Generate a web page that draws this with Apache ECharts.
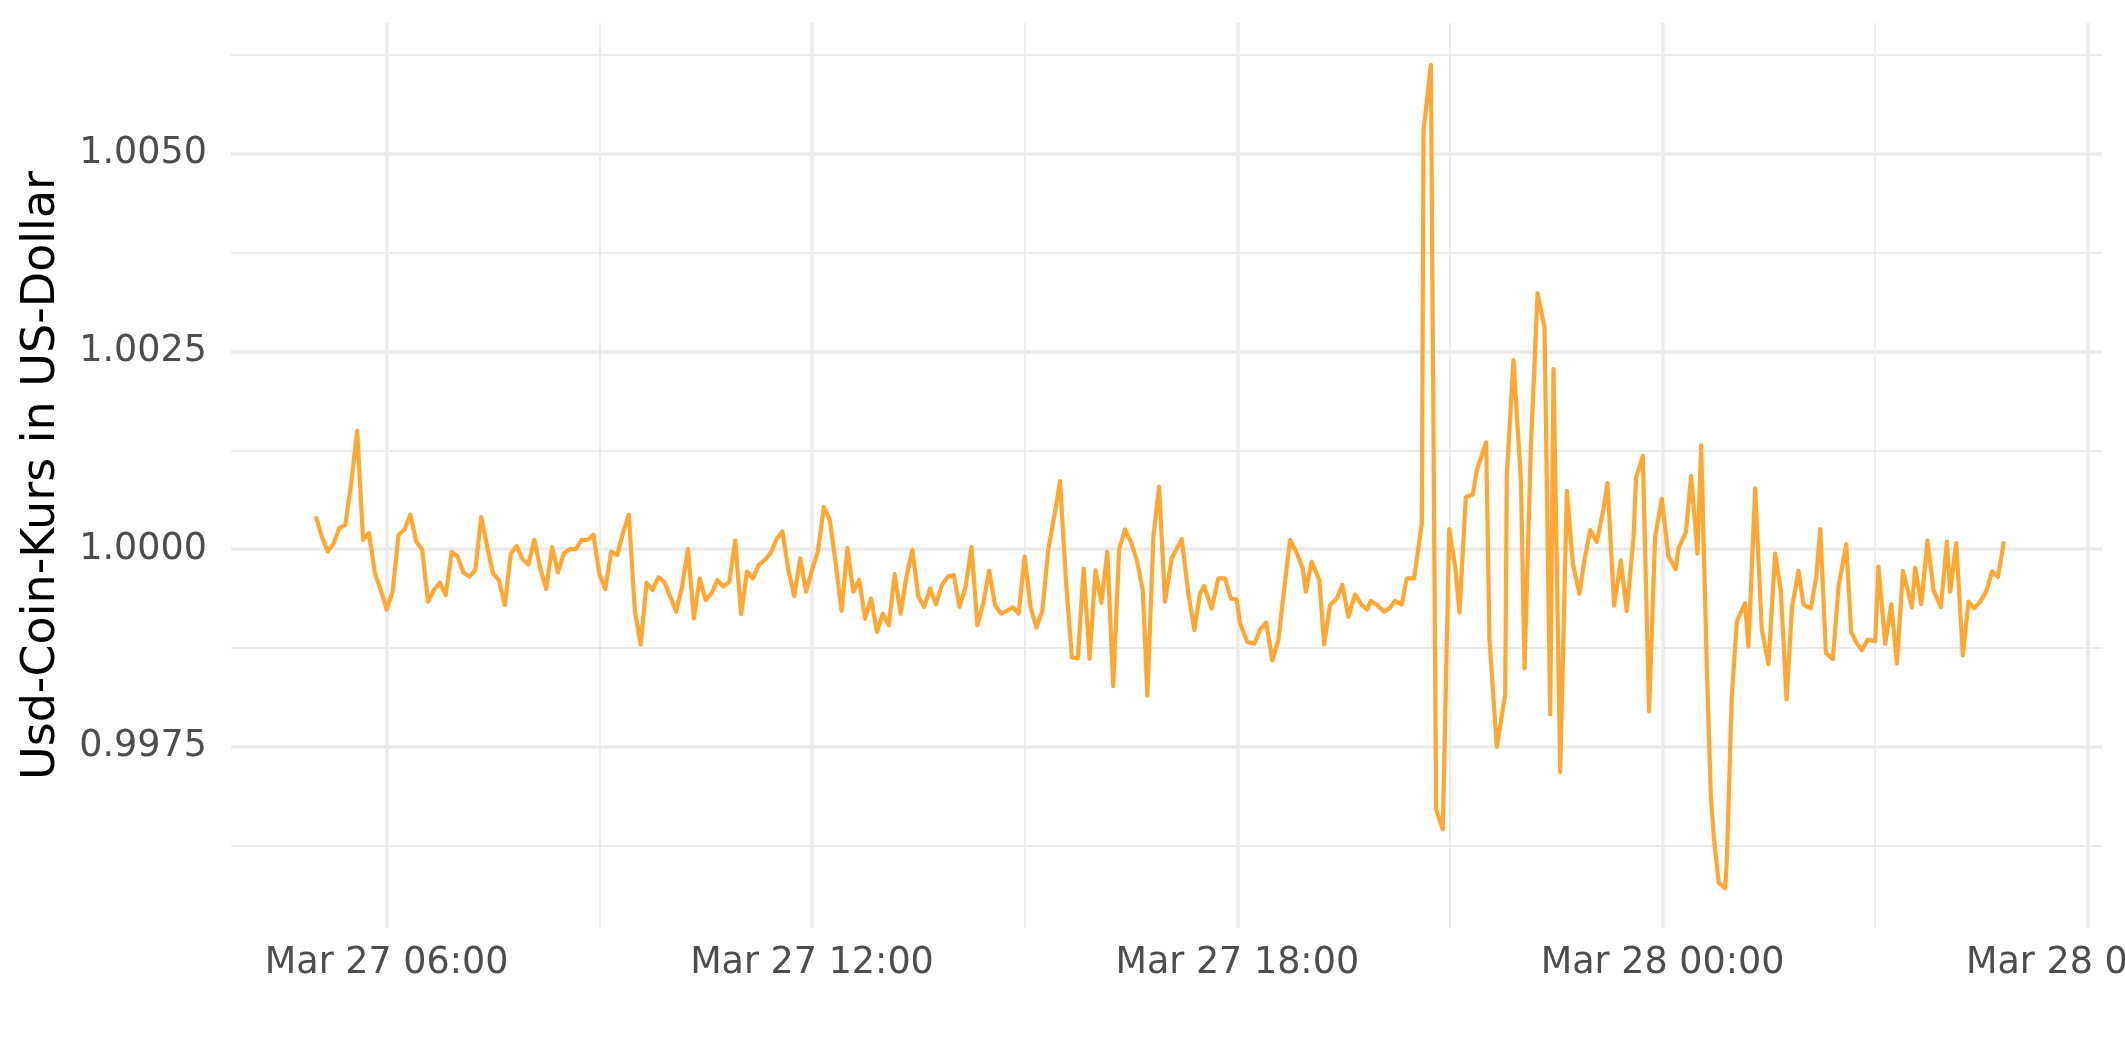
<!DOCTYPE html>
<html>
<head>
<meta charset="utf-8">
<script src="https://cdn.jsdelivr.net/npm/echarts@6/dist/echarts.min.js"></script>
<style>
html,body{margin:0;padding:0;background:#ffffff;}
#chart{width:2125px;height:1062px;}
</style>
</head>
<body>
<div id="chart"></div>
<script>
// Time of each observation, in minutes after Mar 27 00:00 (UTC)
const minutesAfterMar27 = [
 300,305,310,315,320,325,330,335,340,345,350,355,360,365,370,375,380,385,390,395,
 400,405,410,415,420,425,430,435,440,445,450,455,460,465,470,475,480,485,490,495,
 500,505,510,515,520,525,530,535,540,545,550,555,560,565,570,575,580,585,590,595,
 600,605,610,615,620,625,630,635,640,645,650,655,660,665,670,675,680,685,690,695,
 700,705,710,715,720,725,730,735,740,745,750,755,760,765,770,775,780,785,790,795,
 800,805,810,815,820,825,830,835,840,845,850,855,860,865,870,875,880,885,890,895,
 900,905,910,915,920,925,930,935,940,945,950,955,960,965,970,975,980,985,990,995,
 1000.0,1003.9,1009.0,1013.8,1018.9,1024.5,1033.0,1038.6,1043.7,1048.5,1051.9,1058.4,1064.0,1069.7,1074.5,1079.5,
 1082.4,1088.6,1094.5,1099.3,1104.4,1109.7,1114.8,1119.6,1124.7,1129.8,1135.4,1138.0,1143.0,1149.5,1153.5,1158.6,
 1164.2,1169.0,1174.1,1179.7,1185.4,1190.2,1193.0,1198.6,1204.3,1209.4,1213.6,1219.2,1223.5,1229.7,1236.2,
 1237.7,1243.9,1248.4,1254.0,1259.4,1264.5,1268.1,1273.5,1279.4,1282.8,1290.7,1293.5,1299.7,1306.8,1308.2,1313.8,
 1320.1,1323.2,1328.5,1334.2,1340.1,1344.9,1347.7,1353.4,1359.0,1364.1,1369.7,1373.7,1378.8,1384.4,
 1390.0,1393.4,1399.0,1404.7,1409.7,1415.4,1417.6,1423.3,1428.6,1433.7,1439.4,1445.0,1451.2,1453.5,1459.7,1464.2,
 1469.6,1472.7,1477.5,1480.9,1483.7,1487.6,1493.0,1494.4,1498.6,1502.9,1509.9,1512.7,1518.4,1524.0,1529.7,1535.3,
 1540.1,1545.0,
 1549.5,1555.1,1559.4,1565.6,1570.1,1573.5,1578.3,1584.2,1589.0,1595.5,1599.7,1603.9,1608.7,1613.5,1620.0,1622.8,
 1628.5,1633.6,1638.4,1643.5,1651.1,1653.9,1659.0,1664.3,1669.4,1675.6,1680.7,1683.5,1688.6,1694.2,1699.0,1703.8,
 1708.9,1714,1719,1724,1729
];

// USD Coin price in US dollars
const usdcPrice = [
 1.000415,1.000165,0.99997,1.000068,1.000267,1.000309,1.000839,1.001496,1.000119,1.000203,
 0.999695,0.999483,0.999237,0.999462,1.000182,1.000246,1.000436,1.000097,0.999992,0.999335,
 0.999483,0.999576,0.99942,0.99997,0.999907,0.999703,0.999653,0.999737,1.000407,1.000034,
 0.999695,0.99961,0.999292,0.999941,1.000042,0.999873,0.999809,1.000119,0.999758,0.999496,
 1.000025,0.999708,0.999949,1.0,1.0,1.000119,1.000119,1.000182,0.999686,0.999492,
 0.99997,0.999928,1.000203,1.000436,0.999229,0.998792,0.999576,0.999483,0.999644,0.999589,
 0.999398,0.999208,0.999525,1.0,0.999123,0.999631,0.999356,0.999441,0.99961,0.999525,
 0.999589,1.00011,0.999178,0.999716,0.999631,0.999801,0.999864,0.999949,1.000127,1.000225,
 0.999737,0.999407,0.999886,0.999462,0.999737,0.99997,1.000534,1.000373,0.999831,0.99922,
 1.000013,0.999462,0.99961,0.99912,0.999377,0.998953,0.999186,0.999038,0.999686,0.999186,
 0.999653,0.999992,0.999398,0.999271,0.999504,0.999305,0.999547,0.999653,0.999674,0.999271,
 0.999525,1.000025,0.999038,0.999314,0.999729,0.999292,0.999186,0.99922,0.999263,0.999186,
 0.999907,0.999271,0.999009,0.99922,0.999992,1.000407,1.00086,0.999593,0.99863,0.998617,
 0.999756,0.998617,0.999734,0.999321,0.999966,0.998267,0.999996,1.000249,1.000092,0.999861,
 0.999483,0.998148,1.000161,1.000788,0.999335,0.999886,1.000127,0.999441,0.998975,0.999441,0.999534,0.99925,0.999631,0.999631,0.999377,0.999364,
 0.999059,0.998826,0.998805,0.998983,0.999072,0.998593,0.998848,0.999483,1.000119,0.99997,0.999758,0.999462,0.999843,0.99961,0.998797,0.999292,
 0.999377,0.999547,0.999144,0.999428,0.999292,0.999237,0.999347,0.999292,0.99921,0.999259,0.999347,0.999301,0.999631,0.999631,1.00032,
 1.005297,1.006123,0.996707,0.996456,1.000255,0.99978,0.999198,1.000659,1.000692,1.001002,1.001352,0.998855,0.9975,0.998161,1.000936,1.00239,
 1.00087,0.998491,1.001267,1.003236,1.002806,0.997909,1.002277,0.997183,1.000738,0.999813,0.999436,0.999846,1.000242,1.00009,
 1.000507,1.000837,0.999284,0.999859,0.999218,1.000143,1.000903,1.001181,0.997949,1.000156,1.000639,0.999912,0.999747,1.000011,1.000209,1.000923,
 0.999945,1.001313,0.998491,0.996872,0.99631,0.99578,0.99571,0.99606,0.998128,0.999086,0.999317,0.998769,1.000771,0.998987,0.998544,0.999945,
 0.999469,0.9981,
 0.999251,0.999727,0.999297,0.999251,0.999648,1.000255,0.998689,0.99861,0.999529,1.000064,0.998954,0.998822,0.998722,0.998855,0.998835,0.99978,
 0.998802,0.999304,0.998557,0.999727,0.999264,0.999767,0.999304,1.00011,0.999482,0.999264,1.000097,0.999462,1.000077,0.998656,0.999337,0.999251,
 0.999337,0.99947,0.99972,0.99965,1.0001
];

// Axis ticks
const yMajorTicks = [0.9975, 1.0000, 1.0025, 1.0050];
const yMinorTicks = [0.99625, 0.99875, 1.00125, 1.00375, 1.00625];
const xMajorTicks = ['2023-03-27T06:00:00Z', '2023-03-27T12:00:00Z', '2023-03-27T18:00:00Z', '2023-03-28T00:00:00Z', '2023-03-28T06:00:00Z'];
const xMinorTicks = ['2023-03-27T09:00:00Z', '2023-03-27T15:00:00Z', '2023-03-27T21:00:00Z', '2023-03-28T03:00:00Z'];
const xRange = ['2023-03-27T03:48:12Z', '2023-03-28T06:12:00Z'];
const yRange = [0.995209, 1.006655];
const monthNames = ['Jan','Feb','Mar','Apr','May','Jun','Jul','Aug','Sep','Oct','Nov','Dec'];

const BASE = Date.UTC(2023, 2, 27, 0, 0, 0);
const seriesData = minutesAfterMar27.map((m, i) => [BASE + m * 60000, usdcPrice[i]]);
const toMs = s => Date.parse(s);
const pad = n => (n < 10 ? '0' : '') + n;
const fmtTime = v => {
  const d = new Date(v);
  return monthNames[d.getUTCMonth()] + ' ' + pad(d.getUTCDate()) + ' ' + pad(d.getUTCHours()) + ':' + pad(d.getUTCMinutes());
};

const FONT = 'DejaVu Sans';
const GRID_COLOR = '#ebebeb';

const chart = echarts.init(document.getElementById('chart'), null, {renderer: 'canvas'});
chart.setOption({
  animation: false,
  backgroundColor: '#ffffff',
  textStyle: {fontFamily: FONT},
  grid: {left: 231, right: 23, top: 23, bottom: 134, containLabel: false, outerBoundsMode: 'none'},
  xAxis: [
    {
      type: 'value',
      min: toMs(xRange[0]), max: toMs(xRange[1]),
      axisLine: {show: false},
      axisTick: {show: false, customValues: xMajorTicks.map(toMs)},
      axisLabel: {
        customValues: xMajorTicks.map(toMs),
        formatter: fmtTime,
        hideOverlap: false,
        fontFamily: FONT, fontSize: 36.5, color: '#4d4d4d', margin: 17
      },
      splitLine: {show: true, lineStyle: {color: GRID_COLOR, width: 3.5}}
    },
    {
      type: 'value',
      position: 'bottom',
      min: toMs(xRange[0]), max: toMs(xRange[1]),
      axisLine: {show: false},
      axisTick: {show: false, customValues: xMinorTicks.map(toMs)},
      axisLabel: {show: false, customValues: xMinorTicks.map(toMs)},
      splitLine: {show: true, lineStyle: {color: GRID_COLOR, width: 1.8}}
    }
  ],
  yAxis: [
    {
      type: 'value',
      min: yRange[0], max: yRange[1],
      name: 'Usd-Coin-Kurs in US-Dollar',
      nameLocation: 'middle',
      nameGap: 166,
      nameTextStyle: {fontFamily: FONT, fontSize: 46, color: '#000000'},
      axisLine: {show: false},
      axisTick: {show: false, customValues: yMajorTicks},
      axisLabel: {
        customValues: yMajorTicks,
        formatter: v => v.toFixed(4),
        fontFamily: FONT, fontSize: 36.5, color: '#4d4d4d', margin: 24
      },
      splitLine: {show: true, lineStyle: {color: GRID_COLOR, width: 3.5}}
    },
    {
      type: 'value',
      position: 'left',
      min: yRange[0], max: yRange[1],
      axisLine: {show: false},
      axisTick: {show: false, customValues: yMinorTicks},
      axisLabel: {show: false, customValues: yMinorTicks},
      splitLine: {show: true, lineStyle: {color: GRID_COLOR, width: 1.8}}
    }
  ],
  series: [{
    type: 'line',
    xAxisIndex: 0,
    yAxisIndex: 0,
    data: seriesData,
    showSymbol: false,
    symbol: 'none',
    smooth: false,
    lineStyle: {color: '#ffa733', width: 4.2, join: 'round'},
    z: 5
  }]
});
</script>
</body>
</html>
